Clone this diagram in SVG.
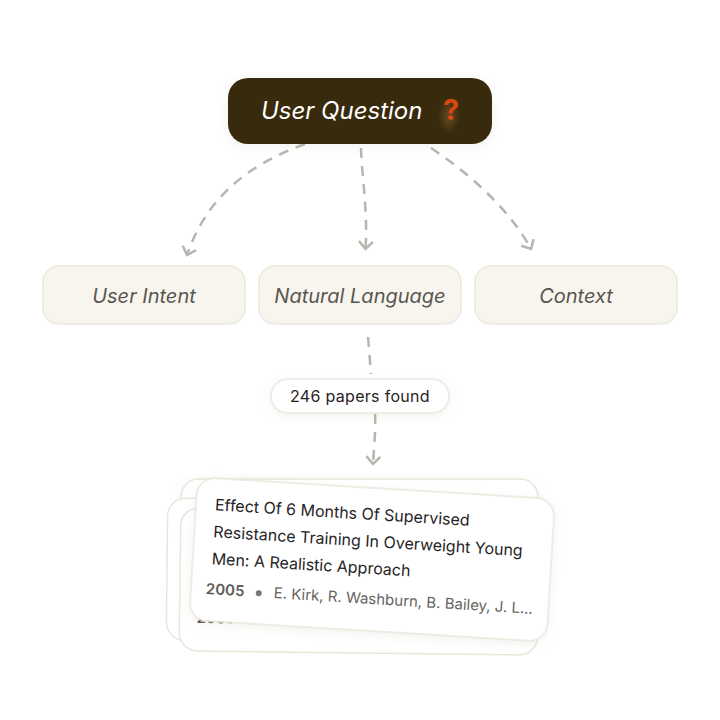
<svg xmlns="http://www.w3.org/2000/svg" width="720" height="720" viewBox="0 0 720 720">
<style>
text{font-family:"Inter","Liberation Sans",sans-serif}
.tag{fill:#f8f5ef;stroke:#ebe8de;stroke-width:1.5}
.tagt{font-size:20px;font-style:italic;fill:#59564f;text-anchor:middle}
.card{fill:#fff;stroke:#e9e6da;stroke-width:1.5}
.title{font-size:16px;fill:#26241f}
.year{font-size:15px;font-weight:600;fill:#5f5c56}
.auth{font-size:15px;fill:#66635d}
.c{fill:none;stroke:#b6b6b0;stroke-width:2.5;stroke-dasharray:10 8;marker-end:url(#a)}
</style>
<defs>
<marker id="a" markerUnits="userSpaceOnUse" markerWidth="20" markerHeight="20" refX="10" refY="10" orient="auto" overflow="visible">
<path d="M2.500 3 L10 10 L2.500 17" fill="none" stroke="#b6b6b0" stroke-width="2.500"/>
</marker>
<filter id="s" x="-10%" y="-20%" width="120%" height="150%"><feDropShadow dx="0" dy="3" stdDeviation="5" flood-color="#8a8670" flood-opacity="0.1"/></filter>
<radialGradient id="g"><stop offset="0" stop-color="#8a6a30" stop-opacity=".55"/><stop offset="1" stop-color="#8a6a30" stop-opacity="0"/></radialGradient>
</defs>
<g id="connectors">
<path class="c" d="M305 144 C250 164 207 196 187 255"/>
<path class="c" d="M361 148 C362 180 368 210 365.500 249"/>
<path class="c" d="M431 148 C470 174 510 210 531 249"/>
<path class="c" d="M368 337 L371 374" style="marker-end:none"/>
<path class="c" d="M375 414 C376 430 374 445 373 464"/>
</g>
<g id="user-question">
<rect x="228" y="78" width="264" height="66" rx="20" fill="#382c09" filter="url(#s)"/>
<text x="261" y="119" font-size="24" font-style="italic" fill="#fff">User Question</text>
<ellipse cx="449" cy="116" rx="11" ry="18" fill="url(#g)"/>
<text x="451" y="120" font-size="29" font-weight="700" fill="#d9480f" text-anchor="middle">?</text>
</g>
<g id="user-intent"><rect class="tag" x="43" y="266" width="202" height="58" rx="16"/><text class="tagt" x="144" y="303">User Intent</text></g>
<g id="natural-language"><rect class="tag" x="259" y="266" width="202" height="58" rx="16"/><text class="tagt" x="360" y="303">Natural Language</text></g>
<g id="context"><rect class="tag" x="475" y="266" width="202" height="58" rx="16"/><text class="tagt" x="576" y="303">Context</text></g>
<g id="papers-found"><rect x="271" y="379" width="178" height="34" rx="17" fill="#fff" stroke="#ebe8de" stroke-width="1.500" filter="url(#s)"/><text x="360" y="402" font-size="16" fill="#26241f" text-anchor="middle" letter-spacing=".3">246 papers found</text></g>
<g id="cards">
<rect class="card" x="181" y="479" width="357" height="150" rx="18" filter="url(#s)"/>
<rect class="card" x="167" y="500" width="355" height="142" rx="18" transform="rotate(.6 345 570)"/>
<g transform="rotate(.7 360 580)">
<rect class="card" x="180" y="510" width="358" height="143" rx="18"/>
<text class="year" x="197" y="625">2005</text><circle cx="251" cy="620" r="3" fill="#777"/><text class="auth" x="266" y="625">E. Kirk, R. Washburn, B. Bailey, J. L...</text>
</g>
<g transform="rotate(3.500 372 560)">
<rect class="card" x="193" y="488" width="358" height="143" rx="18" filter="url(#s)"/>
<text class="title"><tspan x="212" y="520">Effect Of 6 Months Of Supervised</tspan><tspan x="212" y="547">Resistance Training In Overweight Young</tspan><tspan x="212" y="574">Men: A Realistic Approach</tspan></text>
<text class="year" x="208" y="604">2005</text><circle cx="261" cy="600" r="3" fill="#777"/><text class="auth" x="276" y="604">E. Kirk, R. Washburn, B. Bailey, J. L...</text>
</g>
</g>
</svg>
